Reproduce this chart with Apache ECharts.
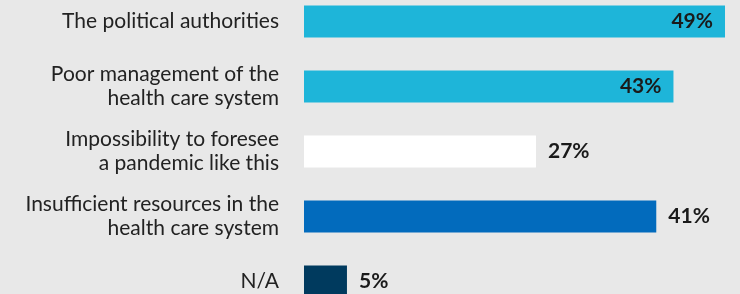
<!DOCTYPE html>
<html>
<head>
<meta charset="utf-8">
<script src="https://cdn.jsdelivr.net/npm/echarts@6/dist/echarts.min.js"></script>
<style>
	html, body { margin: 0; padding: 0; background: #e8e8e8; overflow: hidden; }
	#bar_chart { position: absolute; left: 0; top: -11px; width: 740px; height: 325px; }
</style>
</head>
<body>
<div id="bar_chart"></div>
<script>
var categories = [
	'The political authorities',
	'Poor management of the\nhealth care system',
	'Impossibility to foresee\na pandemic like this',
	'Insufficient resources in the\nhealth care system',
	'N/A'
];
var values = [49, 43, 27, 41, 5];
var barColors = ['#1eb5d9', '#1eb5d9', '#ffffff', '#026bbd', '#003a5e'];
var insideLabel = [true, true, false, false, false];

(function() {
	var Chart = echarts.init(document.getElementById('bar_chart'));

	var data = [];
	for(var i = 0; i < values.length; i++) {
		data.push({
			value: values[i],
			itemStyle: {
				color: barColors[i]
			},
			label: {
				position: insideLabel[i] ? 'insideRight' : 'right',
				distance: insideLabel[i] ? 12 : 12
			}
		});
	}

	var option = {
		backgroundColor: '#e8e8e8',
		animation: false,
		grid: {
			left: 304,
			right: 6.4,
			top: 0,
			bottom: 0,
			containLabel: false
		},
		xAxis: {
			type: 'value',
			min: 0,
			max: 50,
			show: false
		},
		yAxis: {
			type: 'category',
			inverse: true,
			data: categories,
			axisLine: { show: false },
			axisTick: { show: false },
			axisLabel: {
				margin: 25,
				color: '#222222',
				fontFamily: 'Lato',
				fontSize: 21,
				lineHeight: 24
			}
		},
		series: [{
			type: 'bar',
			barWidth: 32,
			data: data,
			label: {
				show: true,
				formatter: '{c}%',
				color: '#1a1a1a',
				fontFamily: 'Lato',
				fontWeight: 'bold',
				fontSize: 21
			}
		}]
	};
	Chart.setOption(option);
})();
</script>
</body>
</html>
